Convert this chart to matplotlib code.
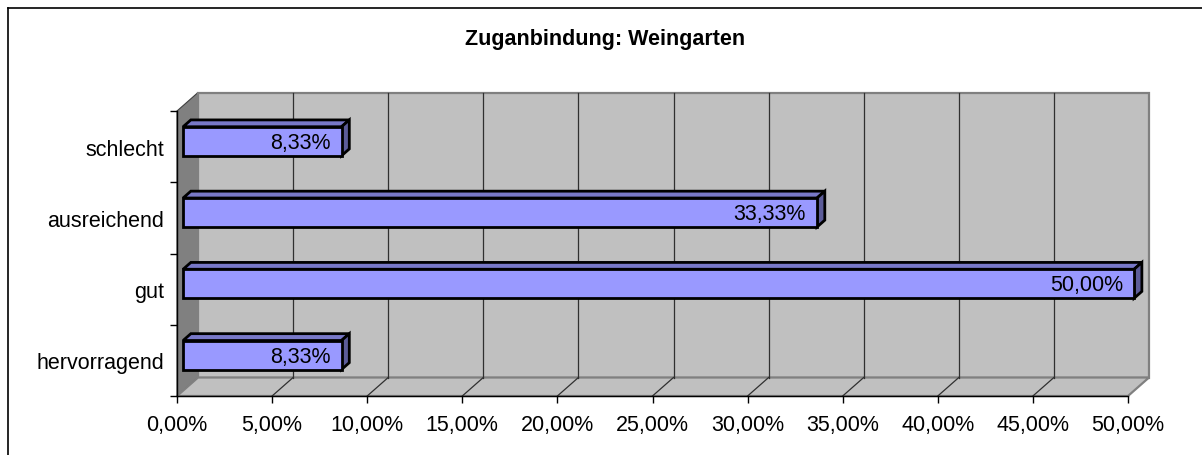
import matplotlib
matplotlib.use("Agg")
import matplotlib.pyplot as plt
from matplotlib.patches import Polygon
from matplotlib.lines import Line2D

plt.rcParams['font.family'] = ['Liberation Sans', 'DejaVu Sans']

title = "Zuganbindung: Weingarten"
categories = ["hervorragend", "gut", "ausreichend", "schlecht"]
values = [8.33, 50.00, 33.33, 8.33]
xticks = [0, 5, 10, 15, 20, 25, 30, 35, 40, 45, 50]

W, H = 1202, 456
fig = plt.figure(figsize=(W / 100, H / 100), dpi=100)
fig.patch.set_facecolor('white')

# front plane of the 3D box in pixels
L, R, T, B = 177, 1128, 112, 397
ax = fig.add_axes([L / W, (H - B) / H, (R - L) / W, (B - T) / H])
ax.set_facecolor('none')
xmin, xmax = 0, 50
ymin, ymax = -0.5, len(categories) - 0.5
ax.set_xlim(xmin, xmax)
ax.set_ylim(ymin, ymax)

kx = (xmax - xmin) / (R - L)      # data units per pixel
ky = (ymax - ymin) / (B - T)
DX, DY = 21, 18.5                 # depth in pixels
dx, dy = DX * kx, DY * ky

wall_grey = '#c0c0c0'
side_grey = '#808080'

# left wall
ax.add_patch(Polygon([(xmin, ymin), (xmin + dx, ymin + dy), (xmin + dx, ymax + dy), (xmin, ymax)],
                     closed=True, facecolor=side_grey, edgecolor='#404040', lw=0.8,
                     clip_on=False, zorder=1))
# back wall
ax.add_patch(Polygon([(xmin + dx, ymin + dy), (xmax + dx, ymin + dy), (xmax + dx, ymax + dy), (xmin + dx, ymax + dy)],
                     closed=True, facecolor=wall_grey, edgecolor=side_grey, lw=1.6,
                     clip_on=False, zorder=1))
# floor
ax.add_patch(Polygon([(xmin, ymin), (xmax, ymin), (xmax + dx, ymin + dy), (xmin + dx, ymin + dy)],
                     closed=True, facecolor=wall_grey, edgecolor=side_grey, lw=1.6,
                     clip_on=False, zorder=1.1))

# gridlines on back wall and floor
for xv in xticks[1:-1]:
    ax.plot([xv + dx, xv + dx], [ymin + dy, ymax + dy], color='#303030', lw=0.9,
            clip_on=False, zorder=1.5)
    ax.plot([xv, xv + dx], [ymin, ymin + dy], color='#303030', lw=0.9,
            clip_on=False, zorder=1.5)

# bars
t0, t1 = 0.29, 0.66
bh = 29 * ky
front_c, top_c, side_c = '#9999ff', '#7878c8', '#5c5c99'
for i, v in enumerate(values):
    ox0, oy0 = t0 * dx, t0 * dy
    ox1, oy1 = t1 * dx, t1 * dy
    bot, top = i - bh / 2, i + bh / 2
    kw = dict(closed=True, edgecolor='black', lw=2.0, joinstyle='miter', clip_on=False, zorder=3)
    ax.add_patch(Polygon([(ox0, top + oy0), (v + ox0, top + oy0), (v + ox1, top + oy1), (ox1, top + oy1)],
                         facecolor=top_c, **kw))
    ax.add_patch(Polygon([(v + ox0, bot + oy0), (v + ox0, top + oy0), (v + ox1, top + oy1), (v + ox1, bot + oy1)],
                         facecolor=side_c, **kw))
    ax.add_patch(Polygon([(ox0, bot + oy0), (v + ox0, bot + oy0), (v + ox0, top + oy0), (ox0, top + oy0)],
                         facecolor=front_c, **kw))
    ax.annotate(f"{v:.2f}%".replace('.', ','), xy=(v + ox0, i + oy0), xytext=(-11, -1),
                textcoords='offset pixels', ha='right', va='center', fontsize=15.5,
                color='black', zorder=4, annotation_clip=False)

# axes
for s in ['top', 'right']:
    ax.spines[s].set_visible(False)
for s in ['left', 'bottom']:
    ax.spines[s].set_color('black')
    ax.spines[s].set_linewidth(1.0)
    ax.spines[s].set_zorder(2.5)
ax.set_xticks(xticks)
ax.set_xticklabels([f"{v:.2f}%".replace('.', ',') for v in xticks])
ax.set_yticks([i - 0.5 for i in range(len(categories) + 1)])
ax.set_yticklabels([])
ax.set_yticks(range(len(categories)), minor=True)
ax.set_yticklabels(categories, minor=True)
ax.tick_params(axis='x', length=5, width=1, direction='out', labelsize=15.5, pad=8)
ax.tick_params(axis='y', which='major', length=5, width=1, direction='out')
ax.tick_params(axis='y', which='minor', length=0, labelsize=15.5, pad=9)

fig.text(605 / W, 1 - 40 / H, title, ha='center', va='center', fontsize=15.5, fontweight='bold')

# chart frame (left and top edges visible)
fig.add_artist(Line2D([8 / W, 8 / W], [0, 1 - 9 / H], color='black', lw=1.2))
fig.add_artist(Line2D([8 / W, 1], [1 - 9 / H, 1 - 9 / H], color='black', lw=1.2))

fig.savefig('out.png', dpi=100)
